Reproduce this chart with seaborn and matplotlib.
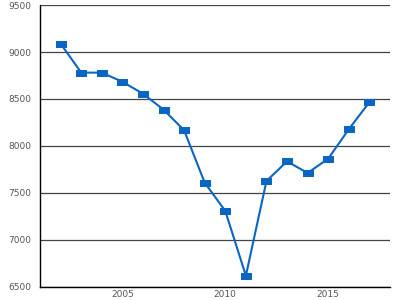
import pandas as pd  # data handling
import matplotlib.pyplot as plt  # plotting
from matplotlib.path import Path
import seaborn as sns  # line plot

# Values
years = [2002, 2003, 2004, 2005, 2006, 2007, 2008, 2009, 2010,
         2011, 2012, 2013, 2014, 2015, 2016, 2017]
values = [9090, 8780, 8780, 8683, 8555, 8386, 8165, 7607, 7305,
          6615, 7625, 7834, 7710, 7863, 8177, 8465]
y_ticks = [6500, 7000, 7500, 8000, 8500, 9000, 9500]
x_labels = [2005, 2010, 2015]

df = pd.DataFrame({'year': years, 'value': values})

sns.set_style('white')
plt.rcParams['font.family'] = ['DejaVu Sans']

fig = plt.figure(figsize=(4, 3), dpi=100)
ax = fig.add_axes([0.1, 0.045, 0.875, 0.938])

# flat rectangle marker, wider than tall
rect = Path([(-1, -0.6), (1, -0.6), (1, 0.6), (-1, 0.6), (-1, -0.6)])

sns.lineplot(data=df, x='year', y='value', ax=ax, color='#0a66c2',
             linewidth=1.5, marker=rect, markersize=7,
             markerfacecolor='#0a66c2', markeredgecolor='#0a66c2')

ax.set_xlim(2001, 2018)
ax.set_ylim(6500, 9500)
ax.set_yticks(y_ticks)
ax.set_yticklabels([str(v) for v in y_ticks])
ax.set_xticks(list(range(2001, 2019)))
ax.set_xticklabels([str(y) if y in x_labels else '' for y in range(2001, 2019)])

# horizontal gridlines only
ax.grid(axis='y', color='#444444', linewidth=0.9)
ax.grid(axis='x', visible=False)
ax.set_axisbelow(True)

for side in ['top', 'right']:
    ax.spines[side].set_visible(False)
for side in ['left', 'bottom']:
    ax.spines[side].set_color('black')
    ax.spines[side].set_linewidth(1.0)

ax.tick_params(axis='x', direction='inout', length=6, width=1, color='black',
               labelsize=6.5, labelcolor='#555555', pad=-0.5)
ax.tick_params(axis='y', length=0, labelsize=6.5, labelcolor='#555555', pad=6)

ax.set_xlabel('')
ax.set_ylabel('')

plt.savefig('out.png', dpi=100)
